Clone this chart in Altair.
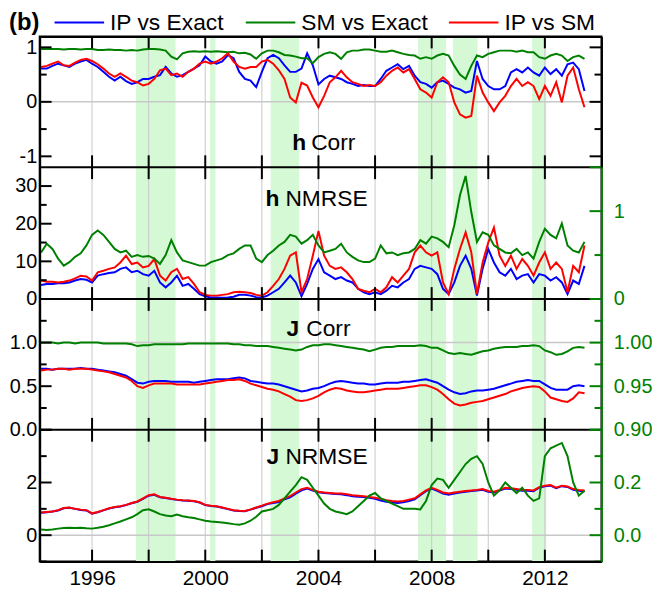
import altair as alt
import pandas as pd

# ---------------- data ----------------
YEAR0, STEP, NPTS = 1994.2, 0.2, 97
years = [round(YEAR0 + STEP * i, 1) for i in range(NPTS)]

SERIES = ["IP vs Exact", "SM vs Exact", "IP vs SM"]
COLORS = ["#0000ff", "#008000", "#ff0000"]
GREEN = "#008000"
SHADE = "#d5f8d5"
GRIDC = "#c8c8c8"

shade_start = [1997.55, 2000.17, 2002.31, 2007.52, 2008.75, 2011.55]
shade_end = [1998.95, 2000.36, 2003.32, 2008.51, 2009.62, 2012.05]
grid_years = [1996, 1998, 2000, 2002, 2004, 2006, 2008, 2010, 2012]
label_years = [1996, 2000, 2004, 2008, 2012]

# panel 1: h Corr
h_corr_ip_exact = [
    0.61, 0.61, 0.66, 0.70, 0.67, 0.64, 0.70, 0.74, 0.77, 0.70,
    0.64, 0.55, 0.46, 0.39, 0.46, 0.38, 0.33, 0.36, 0.42, 0.42,
    0.46, 0.49, 0.64, 0.52, 0.46, 0.49, 0.55, 0.61, 0.67, 0.83,
    0.74, 0.70, 0.74, 0.86, 0.80, 0.55, 0.42, 0.39, 0.27, 0.55,
    0.80, 0.86, 0.80, 0.67, 0.55, 0.55, 0.61, 0.89, 0.67, 0.32,
    0.42, 0.48, 0.45, 0.42, 0.36, 0.33, 0.29, 0.31, 0.29, 0.29,
    0.42, 0.57, 0.63, 0.69, 0.60, 0.66, 0.48, 0.36, 0.33, 0.26,
    0.36, 0.39, 0.33, 0.26, 0.23, 0.17, 0.20, 0.75, 0.42, 0.29,
    0.23, 0.23, 0.29, 0.54, 0.60, 0.54, 0.63, 0.54, 0.48, 0.63,
    0.51, 0.60, 0.48, 0.69, 0.72, 0.60, 0.20]
h_corr_sm_exact = [
    0.97, 0.97, 0.97, 0.97, 0.96, 0.97, 0.97, 0.96, 0.97, 0.97,
    0.95, 0.95, 0.96, 0.95, 0.95, 0.94, 0.95, 0.94, 0.96, 0.97,
    0.97, 0.96, 0.94, 0.83, 0.78, 0.89, 0.92, 0.93, 0.92, 0.93,
    0.92, 0.93, 0.92, 0.91, 0.92, 0.89, 0.90, 0.87, 0.79, 0.89,
    0.94, 0.94, 0.91, 0.86, 0.85, 0.83, 0.80, 0.80, 0.71, 0.82,
    0.88, 0.91, 0.88, 0.79, 0.91, 0.94, 0.94, 0.96, 0.96, 0.94,
    0.92, 0.92, 0.94, 0.91, 0.88, 0.86, 0.85, 0.79, 0.82, 0.79,
    0.85, 0.88, 0.85, 0.66, 0.50, 0.42, 0.66, 0.85, 0.82, 0.88,
    0.91, 0.94, 0.94, 0.94, 0.92, 0.94, 0.91, 0.91, 0.82, 0.79,
    0.85, 0.88, 0.85, 0.75, 0.82, 0.85, 0.79]
h_corr_ip_sm = [
    0.64, 0.66, 0.70, 0.74, 0.67, 0.66, 0.72, 0.77, 0.79, 0.75,
    0.69, 0.61, 0.52, 0.46, 0.52, 0.46, 0.39, 0.36, 0.30, 0.33,
    0.42, 0.58, 0.61, 0.49, 0.52, 0.46, 0.55, 0.61, 0.70, 0.74,
    0.70, 0.74, 0.80, 0.89, 0.74, 0.64, 0.61, 0.64, 0.64, 0.74,
    0.77, 0.70, 0.58, 0.42, 0.08, -0.01, 0.35, 0.30, 0.08, -0.10,
    0.11, 0.36, 0.45, 0.57, 0.45, 0.36, 0.33, 0.29, 0.31, 0.29,
    0.36, 0.48, 0.57, 0.63, 0.54, 0.60, 0.42, 0.23, 0.17, 0.08,
    0.36, 0.45, 0.36, -0.01, -0.23, -0.29, -0.26, 0.48, 0.17, -0.01,
    -0.17, -0.01, 0.11, 0.29, 0.42, 0.29, 0.36, 0.29, 0.05, 0.29,
    0.11, 0.36, -0.01, 0.48, 0.63, 0.23, -0.10]

# panel 2: h NMRSE (green on right axis)
h_nmrse_ip_exact = [
    3.7, 4.0, 4.0, 4.2, 4.2, 4.4, 4.9, 5.3, 5.1, 4.4,
    6.2, 6.6, 6.9, 7.1, 8.0, 8.4, 7.1, 7.5, 6.6, 6.2,
    7.5, 4.4, 3.1, 4.4, 6.2, 3.5, 4.0, 2.7, 1.3, 0.7,
    0.4, 0.4, 0.35, 0.4, 0.6, 1.1, 1.1, 0.9, 0.5, 0.4,
    0.9, 1.8, 2.7, 4.4, 6.2, 4.4, 0.7, 4.0, 8.0, 10.6,
    7.1, 6.2, 5.3, 5.8, 4.9, 4.4, 2.7, 1.8, 1.3, 1.8,
    1.3, 2.2, 3.5, 3.1, 4.4, 5.3, 8.0, 8.8, 8.4, 8.0,
    6.6, 2.7, 1.3, 4.4, 8.8, 11.5, 8.0, 0.9, 8.0, 13.3,
    9.7, 7.1, 6.2, 8.0, 5.3, 6.2, 6.6, 4.4, 6.6, 6.2,
    4.9, 5.8, 4.4, 1.3, 4.9, 4.0, 8.8]
h_nmrse_sm_exact = [
    0.53, 0.63, 0.57, 0.46, 0.38, 0.42, 0.48, 0.52, 0.61, 0.73,
    0.78, 0.73, 0.65, 0.57, 0.53, 0.55, 0.48, 0.50, 0.48, 0.49,
    0.46, 0.40, 0.50, 0.67, 0.53, 0.44, 0.42, 0.40, 0.38, 0.38,
    0.42, 0.44, 0.46, 0.50, 0.52, 0.57, 0.61, 0.61, 0.46, 0.42,
    0.50, 0.55, 0.61, 0.65, 0.73, 0.71, 0.63, 0.67, 0.73, 0.61,
    0.53, 0.55, 0.57, 0.63, 0.53, 0.48, 0.44, 0.42, 0.42, 0.46,
    0.61, 0.52, 0.53, 0.50, 0.52, 0.53, 0.57, 0.67, 0.63, 0.71,
    0.69, 0.65, 0.59, 0.84, 1.18, 1.40, 0.99, 0.65, 0.76, 0.73,
    0.61, 0.57, 0.53, 0.52, 0.57, 0.50, 0.53, 0.46, 0.65, 0.80,
    0.73, 0.69, 0.86, 0.61, 0.55, 0.53, 0.65]
h_nmrse_ip_sm = [
    4.9, 4.6, 4.6, 4.4, 4.6, 4.9, 5.5, 6.2, 6.0, 4.9,
    7.1, 7.5, 8.0, 8.4, 9.7, 11.5, 9.3, 9.7, 8.4, 8.8,
    10.6, 6.2, 4.9, 7.1, 8.0, 5.3, 5.8, 4.0, 1.8, 1.1,
    0.9, 0.9, 1.1, 1.3, 1.8, 1.9, 1.8, 1.6, 1.1, 0.9,
    1.8, 3.5, 5.3, 8.0, 11.5, 12.4, 1.8, 5.3, 11.5, 18.1,
    11.5, 8.8, 8.0, 8.4, 7.1, 5.3, 2.7, 2.2, 1.8, 2.7,
    1.8, 3.1, 5.8, 4.4, 6.2, 8.0, 12.4, 14.2, 12.4, 11.5,
    12.4, 4.4, 1.3, 8.0, 13.3, 17.7, 12.4, 1.3, 9.7, 15.0,
    19.0, 11.5, 8.8, 11.5, 8.0, 10.6, 8.8, 6.2, 9.7, 12.4,
    8.0, 9.7, 8.0, 1.8, 8.8, 7.1, 14.2]

# panel 3: J Corr (green on right axis)
j_corr_ip_exact = [
    0.70, 0.70, 0.69, 0.70, 0.70, 0.70, 0.70, 0.71, 0.70, 0.70,
    0.69, 0.68, 0.67, 0.66, 0.64, 0.62, 0.58, 0.54, 0.53, 0.55,
    0.56, 0.56, 0.56, 0.55, 0.55, 0.55, 0.55, 0.54, 0.55, 0.56,
    0.57, 0.58, 0.58, 0.58, 0.59, 0.60, 0.59, 0.56, 0.55, 0.54,
    0.53, 0.53, 0.52, 0.50, 0.48, 0.46, 0.44, 0.45, 0.47, 0.48,
    0.50, 0.53, 0.55, 0.56, 0.55, 0.54, 0.53, 0.53, 0.52, 0.52,
    0.53, 0.54, 0.54, 0.54, 0.55, 0.55, 0.56, 0.57, 0.58, 0.56,
    0.54, 0.50, 0.46, 0.43, 0.41, 0.42, 0.44, 0.45, 0.45, 0.46,
    0.47, 0.49, 0.51, 0.53, 0.55, 0.56, 0.57, 0.56, 0.56, 0.52,
    0.48, 0.46, 0.46, 0.46, 0.50, 0.51, 0.50]
j_corr_sm_exact = [
    1.000, 1.000, 1.000, 0.999, 1.000, 1.000, 0.999, 1.000, 1.000, 1.000,
    1.000, 0.999, 0.999, 0.999, 0.999, 0.999, 0.998, 0.996, 0.997, 0.997,
    0.998, 0.998, 0.998, 0.998, 0.998, 0.998, 0.999, 0.999, 0.999, 0.999,
    0.999, 0.999, 0.999, 0.999, 0.998, 0.998, 0.997, 0.997, 0.996, 0.996,
    0.996, 0.995, 0.994, 0.993, 0.992, 0.991, 0.992, 0.995, 0.997, 0.997,
    0.998, 0.998, 0.997, 0.996, 0.995, 0.994, 0.993, 0.992, 0.990, 0.992,
    0.994, 0.995, 0.995, 0.996, 0.996, 0.996, 0.996, 0.997, 0.996, 0.994,
    0.994, 0.991, 0.988, 0.987, 0.988, 0.987, 0.986, 0.988, 0.990, 0.991,
    0.993, 0.994, 0.995, 0.995, 0.995, 0.996, 0.996, 0.997, 0.996, 0.991,
    0.989, 0.986, 0.987, 0.990, 0.994, 0.995, 0.994]
j_corr_ip_sm = [
    0.68, 0.69, 0.69, 0.70, 0.70, 0.69, 0.70, 0.70, 0.70, 0.69,
    0.68, 0.67, 0.66, 0.64, 0.62, 0.60, 0.56, 0.50, 0.48, 0.51,
    0.53, 0.53, 0.53, 0.53, 0.52, 0.52, 0.52, 0.52, 0.52, 0.53,
    0.54, 0.55, 0.56, 0.57, 0.57, 0.58, 0.56, 0.53, 0.51, 0.49,
    0.47, 0.46, 0.44, 0.41, 0.38, 0.34, 0.33, 0.34, 0.36, 0.39,
    0.43, 0.46, 0.48, 0.47, 0.45, 0.44, 0.43, 0.43, 0.44, 0.45,
    0.46, 0.47, 0.47, 0.47, 0.48, 0.49, 0.50, 0.51, 0.51, 0.49,
    0.46, 0.41, 0.35, 0.30, 0.28, 0.29, 0.31, 0.32, 0.33, 0.35,
    0.37, 0.39, 0.41, 0.44, 0.46, 0.48, 0.49, 0.50, 0.49, 0.44,
    0.37, 0.35, 0.33, 0.32, 0.36, 0.43, 0.42]

# panel 4: J NRMSE (green on right axis)
j_nrmse_ip_exact = [
    0.85, 0.87, 0.90, 0.94, 1.02, 1.04, 1.00, 0.96, 0.94, 0.82,
    0.87, 0.94, 1.01, 1.06, 1.09, 1.14, 1.21, 1.27, 1.38, 1.50,
    1.53, 1.44, 1.41, 1.37, 1.34, 1.32, 1.31, 1.29, 1.24, 1.14,
    1.11, 1.09, 1.04, 0.99, 0.94, 0.92, 0.91, 0.97, 1.04, 1.10,
    1.18, 1.22, 1.26, 1.36, 1.44, 1.58, 1.70, 1.77, 1.69, 1.63,
    1.60, 1.58, 1.56, 1.55, 1.52, 1.48, 1.46, 1.45, 1.42, 1.38,
    1.32, 1.27, 1.24, 1.22, 1.25, 1.30, 1.36, 1.52, 1.67, 1.77,
    1.68, 1.58, 1.54, 1.58, 1.62, 1.65, 1.68, 1.70, 1.72, 1.65,
    1.62, 1.69, 1.77, 1.75, 1.72, 1.69, 1.69, 1.67, 1.80, 1.86,
    1.88, 1.78, 1.86, 1.83, 1.72, 1.69, 1.66]
j_nrmse_sm_exact = [
    0.022, 0.020, 0.022, 0.025, 0.027, 0.028, 0.027, 0.028, 0.026, 0.025,
    0.028, 0.032, 0.038, 0.045, 0.052, 0.060, 0.068, 0.080, 0.095, 0.098,
    0.090, 0.080, 0.075, 0.072, 0.078, 0.072, 0.068, 0.065, 0.060, 0.055,
    0.052, 0.050, 0.048, 0.045, 0.042, 0.040, 0.045, 0.055, 0.070, 0.090,
    0.095, 0.100, 0.115, 0.140, 0.165, 0.190, 0.220, 0.210, 0.180, 0.150,
    0.120, 0.100, 0.090, 0.085, 0.080, 0.090, 0.110, 0.130, 0.150, 0.160,
    0.140, 0.130, 0.120, 0.110, 0.100, 0.100, 0.100, 0.098, 0.130, 0.190,
    0.215, 0.210, 0.180, 0.210, 0.240, 0.270, 0.290, 0.300, 0.270, 0.200,
    0.150, 0.170, 0.200, 0.180, 0.160, 0.180, 0.150, 0.130, 0.140, 0.300,
    0.330, 0.340, 0.350, 0.300, 0.200, 0.150, 0.170]
j_nrmse_ip_sm = [
    0.86, 0.88, 0.90, 0.95, 1.03, 1.05, 1.00, 0.97, 0.95, 0.83,
    0.88, 0.95, 1.02, 1.07, 1.10, 1.15, 1.22, 1.28, 1.40, 1.52,
    1.55, 1.45, 1.42, 1.38, 1.35, 1.33, 1.32, 1.30, 1.25, 1.15,
    1.12, 1.10, 1.05, 1.00, 0.95, 0.93, 0.92, 0.98, 1.05, 1.12,
    1.20, 1.25, 1.30, 1.40, 1.48, 1.62, 1.75, 1.80, 1.72, 1.65,
    1.62, 1.60, 1.58, 1.58, 1.55, 1.52, 1.50, 1.48, 1.45, 1.42,
    1.38, 1.33, 1.30, 1.28, 1.30, 1.35, 1.40, 1.55, 1.70, 1.80,
    1.72, 1.62, 1.58, 1.62, 1.65, 1.68, 1.70, 1.72, 1.75, 1.68,
    1.65, 1.72, 1.80, 1.78, 1.75, 1.72, 1.72, 1.70, 1.82, 1.88,
    1.90, 1.80, 1.88, 1.85, 1.75, 1.72, 1.70]

# ---------------- layout helpers ----------------
W, H = 567, 530
BOUNDS = [0, 132, 265, 397, 530]          # panel edges (pixels inside the plot)
X_DOMAIN = [1994.15, 2014.0]
MAJ, MIN = 12, 7
LW = 2.0
LEGEND_SYMBOL_X = [15, 208, 413]          # legend layout (pixels)
LEGEND_Y = -14
one_row = pd.DataFrame({"k": [0]})
shade_df = pd.DataFrame({"start": shade_start, "end": shade_end})
grid_df = pd.DataFrame({"year": grid_years})


def xs():
    return alt.Scale(domain=X_DOMAIN, nice=False, zero=False)


def ys(p, dom):
    return alt.Scale(domain=dom, range=[BOUNDS[p + 1], BOUNDS[p]], nice=False, zero=False)


def series_df(name, vals):
    return pd.DataFrame({"year": years, "value": vals, "series": name})


layers = []
# background shading and vertical grid
layers.append(alt.Chart(shade_df).mark_rect(color=SHADE).encode(
    x=alt.X("start:Q", scale=xs(), axis=None), x2="end:Q"))
layers.append(alt.Chart(grid_df).mark_rule(color=GRIDC, strokeWidth=1).encode(
    x=alt.X("year:Q", scale=xs(), axis=None)))


def hrule(p, dom, val, color, width):
    return alt.Chart(pd.DataFrame({"v": [val]})).mark_rule(color=color, strokeWidth=width).encode(
        y=alt.Y("v:Q", scale=ys(p, dom), axis=None))


def line(p, dom, name, vals):
    return alt.Chart(series_df(name, vals)).mark_line(
        strokeWidth=LW, color=COLORS[SERIES.index(name)]).encode(
        x=alt.X("year:Q", scale=xs(), axis=None),
        y=alt.Y("value:Q", scale=ys(p, dom), axis=None))


def ticks(p, dom, vals, side, length, color, axis=None):
    xa, xb = (0, length) if side == "left" else (W, W - length)
    return alt.Chart(pd.DataFrame({"v": vals})).mark_rule(color=color, strokeWidth=2).encode(
        y=alt.Y("v:Q", scale=ys(p, dom), axis=axis), x=alt.value(xa), x2=alt.value(xb))


def left_axis(vals, fmt=None, expr=None):
    kw = dict(orient="left", values=vals, ticks=False, labelFontSize=20, labelPadding=3,
              labelColor="black", domain=True, domainColor="black", domainWidth=2,
              grid=False, title=None, zindex=1)
    if expr:
        kw["labelExpr"] = expr
    else:
        kw["format"] = fmt
    return alt.Axis(**kw)


def right_axis(vals=None, fmt=None, green=True):
    if not green:
        return alt.Axis(orient="right", ticks=False, labels=False, domain=True,
                        domainColor="black", domainWidth=2, grid=False, title=None, zindex=1)
    return alt.Axis(orient="right", values=vals, format=fmt, ticks=False, labelFontSize=20,
                    labelPadding=12, labelColor=GREEN, domain=True, domainColor=GREEN,
                    domainWidth=2, grid=False, title=None, zindex=1)


D1, D2L, D2R, D3L, D3R, D4L, D4R = ([-1.2, 1.2], [0, 35], [0, 1.5], [0, 1.5], [0.9, 1.05],
                                    [-1, 4], [-0.1, 0.4])

# horizontal gridlines
layers += [hrule(0, D1, 0, GRIDC, 1.5), hrule(2, D3L, 1.0, GRIDC, 1.5), hrule(3, D4L, 0, GRIDC, 1.5)]

# data lines
layers += [line(0, D1, SERIES[0], h_corr_ip_exact),
           line(0, D1, SERIES[1], h_corr_sm_exact),
           line(0, D1, SERIES[2], h_corr_ip_sm)]
layers += [line(1, D2L, SERIES[0], h_nmrse_ip_exact), line(1, D2L, SERIES[2], h_nmrse_ip_sm),
           line(1, D2R, SERIES[1], h_nmrse_sm_exact)]
layers += [line(2, D3L, SERIES[0], j_corr_ip_exact), line(2, D3L, SERIES[2], j_corr_ip_sm),
           line(2, D3R, SERIES[1], j_corr_sm_exact)]
layers += [line(3, D4L, SERIES[0], j_nrmse_ip_exact), line(3, D4L, SERIES[2], j_nrmse_ip_sm),
           line(3, D4R, SERIES[1], j_nrmse_sm_exact)]

# panel separators (at the bottom value of each upper panel)
layers += [hrule(0, D1, D1[0], "black", 2), hrule(1, D2L, D2L[0], "black", 2),
           hrule(2, D3L, D3L[0], "black", 2)]

# x ticks (inward, every 2 years) + top/bottom frame with labels
xb_axis = alt.Axis(orient="bottom", values=label_years, format="d", ticks=False,
                   labelFontSize=21, labelPadding=6, labelColor="black", labelFlush=False,
                   domain=True, domainColor="black", domainWidth=2, grid=False, title=None,
                   zindex=1)
xt_axis = alt.Axis(orient="top", ticks=False, labels=False, domain=True, domainColor="black",
                   domainWidth=2, grid=False, title=None, zindex=1)
layers.append(alt.Chart(grid_df).mark_rule(color="black", strokeWidth=2).encode(
    x=alt.X("year:Q", scale=xs(), axis=xb_axis), y=alt.value(H - MAJ), y2=alt.value(H)))
layers.append(alt.Chart(grid_df).mark_rule(color="black", strokeWidth=2).encode(
    x=alt.X("year:Q", scale=xs(), axis=xt_axis), y=alt.value(0), y2=alt.value(MAJ)))
for b in BOUNDS[1:4]:
    layers.append(alt.Chart(grid_df).mark_rule(color="black", strokeWidth=2).encode(
        x=alt.X("year:Q", scale=xs(), axis=None), y=alt.value(b - MAJ), y2=alt.value(b + MAJ)))

# y ticks and axes
neg_expr = "datum.value < 0 ? '-' + format(abs(datum.value), 'd') : format(datum.value, 'd')"
layers += [
    ticks(0, D1, [-1, 0, 1], "left", MAJ, "black", left_axis([-1, 0, 1], expr=neg_expr)),
    ticks(0, D1, [-0.5, 0.5], "left", MIN, "black"),
    ticks(0, D1, [-1, 0, 1], "right", MAJ, "black", right_axis(green=False)),
    ticks(0, D1, [-0.5, 0.5], "right", MIN, "black"),
    ticks(1, D2L, [0, 10, 20, 30], "left", MAJ, "black", left_axis([0, 10, 20, 30], "d")),
    ticks(1, D2L, [5, 15, 25], "left", MIN, "black"),
    ticks(1, D2R, [0, 1, 1.5], "right", MAJ, GREEN, right_axis([0, 1], "d")),
    ticks(1, D2R, [0.5], "right", MIN, GREEN),
    ticks(2, D3L, [0, 0.5, 1.0, 1.5], "left", MAJ, "black", left_axis([0, 0.5, 1.0], ".1f")),
    ticks(2, D3L, [0.25, 0.75, 1.25], "left", MIN, "black"),
    ticks(2, D3R, [0.9, 0.95, 1.0], "right", MAJ, GREEN, right_axis([0.9, 0.95, 1.0], ".2f")),
    ticks(2, D3R, [0.925, 0.975, 1.025], "right", MIN, GREEN),
    ticks(3, D4L, [0, 2, 4], "left", MAJ, "black", left_axis([0, 2], "d")),
    ticks(3, D4L, [-1, 1, 3], "left", MIN, "black"),
    ticks(3, D4R, [0.0, 0.2, 0.4], "right", MAJ, GREEN, right_axis([0.0, 0.2], ".1f")),
    ticks(3, D4R, [-0.1, 0.1, 0.3], "right", MIN, GREEN),
]

# panel titles (bold symbol + regular word)
titles = [("h", "Corr", 255, 274, 115), ("h", "NMRSE", 228, 248, 171),
          ("J", "Corr", 249, 269, 302), ("J", "NRMSE", 229, 248, 432)]
for bold, rest, bx, rx, ty in titles:
    layers.append(alt.Chart(one_row).mark_text(
        text=bold, fontWeight="bold", fontSize=23, align="left", baseline="alphabetic",
        color="black").encode(x=alt.value(bx), y=alt.value(ty)))
    layers.append(alt.Chart(one_row).mark_text(
        text=rest, fontSize=23, align="left", baseline="alphabetic",
        color="black").encode(x=alt.value(rx), y=alt.value(ty)))

# legend (line sample + label) across the top
for name, col, sx in zip(SERIES, COLORS, LEGEND_SYMBOL_X):
    layers.append(alt.Chart(one_row).mark_rule(color=col, strokeWidth=2).encode(
        x=alt.value(sx), x2=alt.value(sx + 50), y=alt.value(LEGEND_Y)))
    layers.append(alt.Chart(one_row).mark_text(
        text=name, fontSize=23, align="left", baseline="middle", color="black").encode(
        x=alt.value(sx + 56), y=alt.value(LEGEND_Y)))

# panel tag and an invisible anchor fixing the top-left corner of the page
layers.append(alt.Chart(one_row).mark_rule(opacity=0).encode(
    x=alt.value(-32), x2=alt.value(-30), y=alt.value(-25)))
layers.append(alt.Chart(one_row).mark_text(
    text="(b)", fontWeight="bold", fontSize=24, align="left", baseline="middle",
    color="black").encode(x=alt.value(-31), y=alt.value(-14)))

chart = alt.layer(*layers).resolve_scale(y="independent").properties(
    width=W, height=H, padding=0
).configure(font="Liberation Sans").configure_view(stroke="black", strokeWidth=2)

chart.save("out.html", embed_options={"renderer": "svg", "actions": False})
